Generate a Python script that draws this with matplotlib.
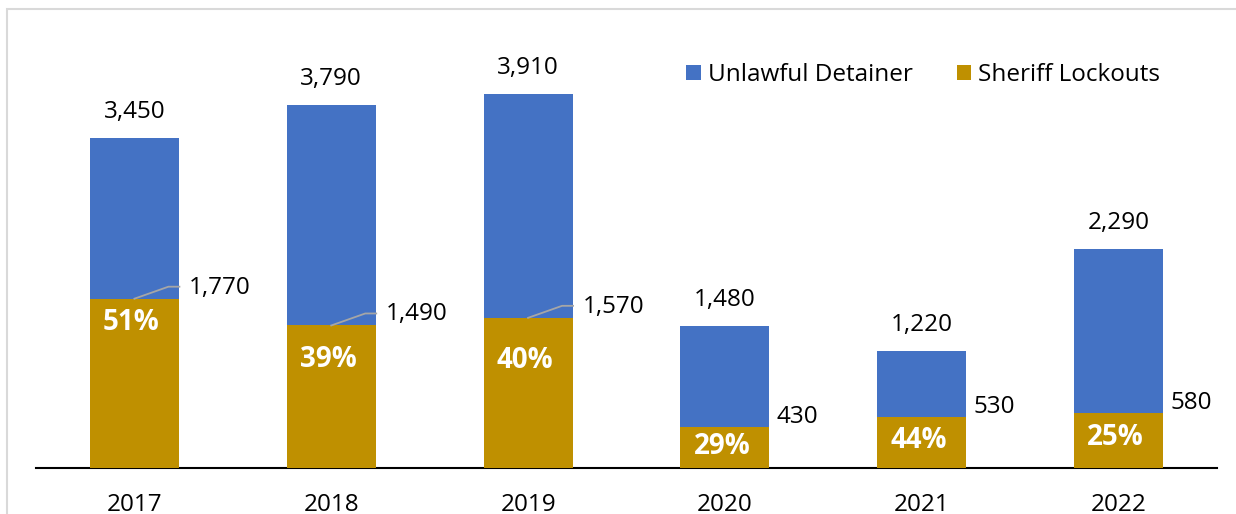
import matplotlib
matplotlib.use("Agg")
import matplotlib.pyplot as plt
from matplotlib.patches import Rectangle

plt.rcParams['font.family'] = ['Open Sans', 'DejaVu Sans']

years = ["2017", "2018", "2019", "2020", "2021", "2022"]
unlawful_detainer = [3450, 3790, 3910, 1480, 1220, 2290]
sheriff_lockouts = [1770, 1490, 1570, 430, 530, 580]
lockout_share_pct = [51, 39, 40, 29, 44, 25]
series_names = ["Unlawful Detainer", "Sheriff Lockouts"]

BLUE = "#4472C4"
GOLD = "#BF9000"

W, H = 1236, 514
fig = plt.figure(figsize=(W / 100, H / 100), dpi=100)

# figure border (light gray)
fig.add_artist(Rectangle((7 / W, -0.1), 1.2, (H - 9) / H + 0.1, transform=fig.transFigure,
                         fill=False, edgecolor="#D9D9D9", linewidth=1.5))

ax_left, ax_right = 36, 1217
base_y, top_y = 468, 20
ax = fig.add_axes([ax_left / W, (H - base_y) / H, (ax_right - ax_left) / W, (base_y - top_y) / H])
px_per_unit = (468 - 138) / 3450.0
ax.set_ylim(0, (base_y - top_y) / px_per_unit)
ax.set_xlim(-0.5, len(years) - 0.5)

x = list(range(len(years)))
bw = 89 / 196.8
ax.bar(x, unlawful_detainer, width=bw, color=BLUE, label=series_names[0], zorder=2)
ax.bar(x, sheriff_lockouts, width=bw, color=GOLD, label=series_names[1], zorder=3)

for s in ["top", "right", "left"]:
    ax.spines[s].set_visible(False)
ax.spines["bottom"].set_color("#000000")
ax.spines["bottom"].set_linewidth(1.5)
ax.set_yticks([])
ax.set_xticks(x)
ax.set_xticklabels(years, fontsize=17.5, color="#000000")
ax.tick_params(axis="x", length=0, pad=18)

pts = 72 / 100.0  # points per pixel
FS = 17.5

# totals
for xi, v in zip(x, unlawful_detainer):
    ax.annotate(f"{v:,}", (xi, v), xytext=(0, 26 * pts), textcoords="offset points",
                ha="center", va="center", fontsize=FS, color="#000000")

# percentages
pct_offsets = [24, 34, 43, 20, 23, 25]
for xi, v, p, off in zip(x, sheriff_lockouts, lockout_share_pct, pct_offsets):
    ax.annotate(f"{p}%", (xi, v), xytext=(-3 * pts, -off * pts),
                textcoords="offset points", ha="center", va="center",
                fontsize=20, fontweight="bold", color="white", zorder=5)

# lockout values
half = bw / 2
fig.canvas.draw()
for i, (xi, v) in enumerate(zip(x, sheriff_lockouts)):
    if i < 3:
        p0 = ax.transData.transform((xi, v))
        p1 = p0 + (34, 12)
        p2 = p0 + (45, 12)
        d = ax.transData.inverted().transform([p0, p1, p2])
        ax.plot(d[:, 0], d[:, 1], color="#A6A6A6", lw=1.3, zorder=4, clip_on=False)
        ax.annotate(f"{v:,}", (xi + half, v), xytext=(10 * pts, 11 * pts), textcoords="offset points",
                    ha="left", va="center", fontsize=FS, color="#000000")
    else:
        ax.annotate(f"{v:,}", (xi + half, v), xytext=(7 * pts, 10 * pts), textcoords="offset points",
                    ha="left", va="center", fontsize=FS, color="#000000")

leg = fig.legend(loc="center left", bbox_to_anchor=(686 / W, 1 - 75 / H), ncol=2, frameon=False,
                 fontsize=FS, handlelength=0.6, handleheight=0.6, handletextpad=0.3,
                 columnspacing=1.8, borderaxespad=0, borderpad=0)

fig.savefig("out.png", dpi=100)
